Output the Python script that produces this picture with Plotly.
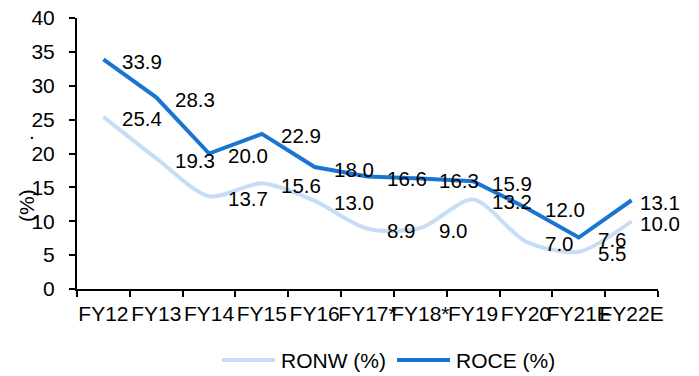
import plotly.graph_objects as go

categories = ["FY12", "FY13", "FY14", "FY15", "FY16", "FY17*", "FY18*", "FY19", "FY20", "FY21E", "FY22E"]
ronw = [25.4, 19.3, 13.7, 15.6, 13.0, 8.9, 9.0, 13.2, 7.0, 5.5, 10.0]
roce = [33.9, 28.3, 20.0, 22.9, 18.0, 16.6, 16.3, 15.9, 12.0, 7.6, 13.1]
y_ticks = [0, 5, 10, 15, 20, 25, 30, 35, 40]
series_names = ["RONW (%)", "ROCE (%)"]

FONT = "Liberation Sans, Arial, sans-serif"
RONW_COLOR = "#C6DDF5"
ROCE_COLOR = "#1A75D2"

W, H = 699, 376
L, R, T, B = 77, 41, 18, 87
pw, ph = W - L - R, H - T - B


def px_x(p):
    return (p - L) / pw


def px_y(p):
    return (H - B - p) / ph


fig = go.Figure()
fig.add_trace(go.Scatter(x=categories, y=ronw, mode="lines", name=series_names[0],
                         line=dict(color=RONW_COLOR, width=4, shape="spline", smoothing=0.8)))
fig.add_trace(go.Scatter(x=categories, y=roce, mode="lines", name=series_names[1],
                         line=dict(color=ROCE_COLOR, width=4)))

annotations = []
for series in (ronw, roce):
    for i, (c, v) in enumerate(zip(categories, series)):
        xs = 6 if i == len(categories) - 1 else 17
        annotations.append(dict(x=c, y=v, xref="x", yref="y", text=f"{v:.1f}",
                                showarrow=False, xanchor="left", yanchor="middle",
                                xshift=xs, yshift=-2,
                                font=dict(family=FONT, size=20.5, color="#000000")))

annotations.append(dict(x=px_x(27), y=px_y(206), xref="paper", yref="paper", text="(%)",
                        showarrow=False, textangle=-90, xanchor="center", yanchor="middle",
                        font=dict(family=FONT, size=21, color="#000000")))
annotations.append(dict(x=px_x(32), y=px_y(131), xref="paper", yref="paper", text=".",
                        showarrow=False, xanchor="center", yanchor="middle",
                        font=dict(family=FONT, size=21, color="#000000")))

# legend drawn manually (line sample + label)
shapes = []
legend_items = [(series_names[0], RONW_COLOR, 222, 275, 279),
                (series_names[1], ROCE_COLOR, 397, 450, 454)]
for name, color, x0, x1, tx in legend_items:
    shapes.append(dict(type="line", xref="paper", yref="paper",
                       x0=px_x(x0), x1=px_x(x1), y0=px_y(360), y1=px_y(360),
                       line=dict(color=color, width=4)))
    annotations.append(dict(x=px_x(tx), y=px_y(360), xref="paper", yref="paper", text=name,
                            showarrow=False, xanchor="left", yanchor="middle",
                            font=dict(family=FONT, size=21, color="#000000")))

fig.update_layout(
    width=W, height=H,
    margin=dict(l=L, r=R, t=T, b=B, autoexpand=False),
    paper_bgcolor="white", plot_bgcolor="white",
    font=dict(family=FONT, size=21, color="#000000"),
    showlegend=False,
    annotations=annotations,
    shapes=shapes,
    xaxis=dict(type="category", showline=True, linecolor="#000000", linewidth=2,
               ticks="outside", ticklen=6, tickcolor="#000000", tickwidth=2,
               tickson="boundaries", showgrid=False, zeroline=False, tickangle=0,
               automargin=False, ticklabelstandoff=5,
               tickfont=dict(family=FONT, size=21), range=[-0.5, len(categories) - 0.5]),
    yaxis=dict(range=[0, 40], tickvals=y_ticks, showline=True, linecolor="#000000", linewidth=2,
               ticks="outside", ticklen=6, tickcolor="#000000", tickwidth=2, automargin=False,
               showgrid=False, zeroline=False, tickfont=dict(family=FONT, size=21),
               ticklabelstandoff=10),
)

fig.write_html("out.html")
